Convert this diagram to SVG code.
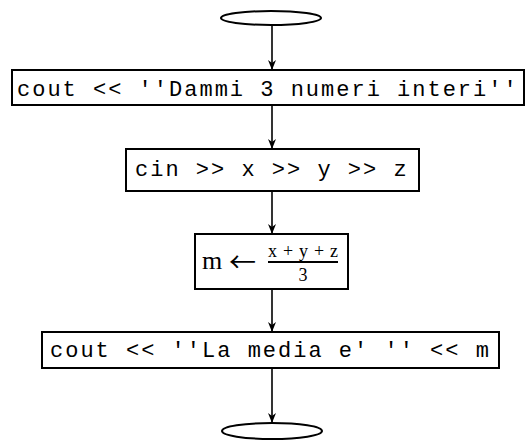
<svg xmlns="http://www.w3.org/2000/svg" width="526" height="441" viewBox="0 0 526 441">
  <style>
    .shape { fill: #fff; stroke: #000; stroke-width: 2; }
    .edge { fill: none; stroke: #000; stroke-width: 1.6; }
    .code { font-family: "Liberation Mono", "DejaVu Sans Mono", monospace; font-size: 22px; letter-spacing: 2px; fill: #000; }
    .math { font-family: "Liberation Serif", "DejaVu Serif", serif; fill: #000; }
    .sym { font-family: "Noto Sans CJK JP", "DejaVu Sans", sans-serif; fill: #000; }
  </style>
  <defs>
    <marker id="arrow" viewBox="0 0 10 10" refX="10" refY="5" markerWidth="10" markerHeight="10" markerUnits="userSpaceOnUse" orient="auto">
      <path d="M0,1 L10,5 L0,9 L3,5 Z" fill="#000"/>
    </marker>
  </defs>
  <rect width="526" height="441" fill="#fff"/>

  <g id="connectors">
    <line class="edge" x1="272" y1="25" x2="272" y2="70" marker-end="url(#arrow)"/>
    <line class="edge" x1="272" y1="105" x2="272" y2="149" marker-end="url(#arrow)"/>
    <line class="edge" x1="272" y1="191" x2="272" y2="234" marker-end="url(#arrow)"/>
    <line class="edge" x1="272" y1="289" x2="272" y2="332" marker-end="url(#arrow)"/>
    <line class="edge" x1="272" y1="368" x2="272" y2="423" marker-end="url(#arrow)"/>
  </g>

  <g id="start">
    <ellipse class="shape" cx="271" cy="18" rx="50" ry="7"/>
  </g>

  <g id="output-prompt">
    <rect class="shape" x="12" y="70" width="512" height="35"/>
    <text class="code" x="17" y="96">cout &lt;&lt; ''Dammi 3 numeri interi''</text>
  </g>

  <g id="input">
    <rect class="shape" x="126" y="149" width="293" height="42"/>
    <text class="code" x="135" y="176">cin &gt;&gt; x &gt;&gt; y &gt;&gt; z</text>
  </g>

  <g id="average">
    <rect class="shape" x="195" y="234" width="153" height="55"/>
    <text class="math" x="202" y="269" font-size="26">m</text>
    <text class="sym" x="229" y="272" font-size="27">←</text>
    <text class="math" x="268" y="257" font-size="18" textLength="70" lengthAdjust="spacing">x+y+z</text>
    <line x1="268" y1="262" x2="338" y2="262" stroke="#000" stroke-width="2"/>
    <text class="math" x="303" y="281" font-size="18" text-anchor="middle">3</text>
  </g>

  <g id="output-result">
    <rect class="shape" x="42" y="332" width="457" height="36"/>
    <text class="code" x="50" y="357">cout &lt;&lt; ''La media e' '' &lt;&lt; m</text>
  </g>

  <g id="end">
    <ellipse class="shape" cx="272" cy="431" rx="50" ry="8"/>
  </g>
</svg>
